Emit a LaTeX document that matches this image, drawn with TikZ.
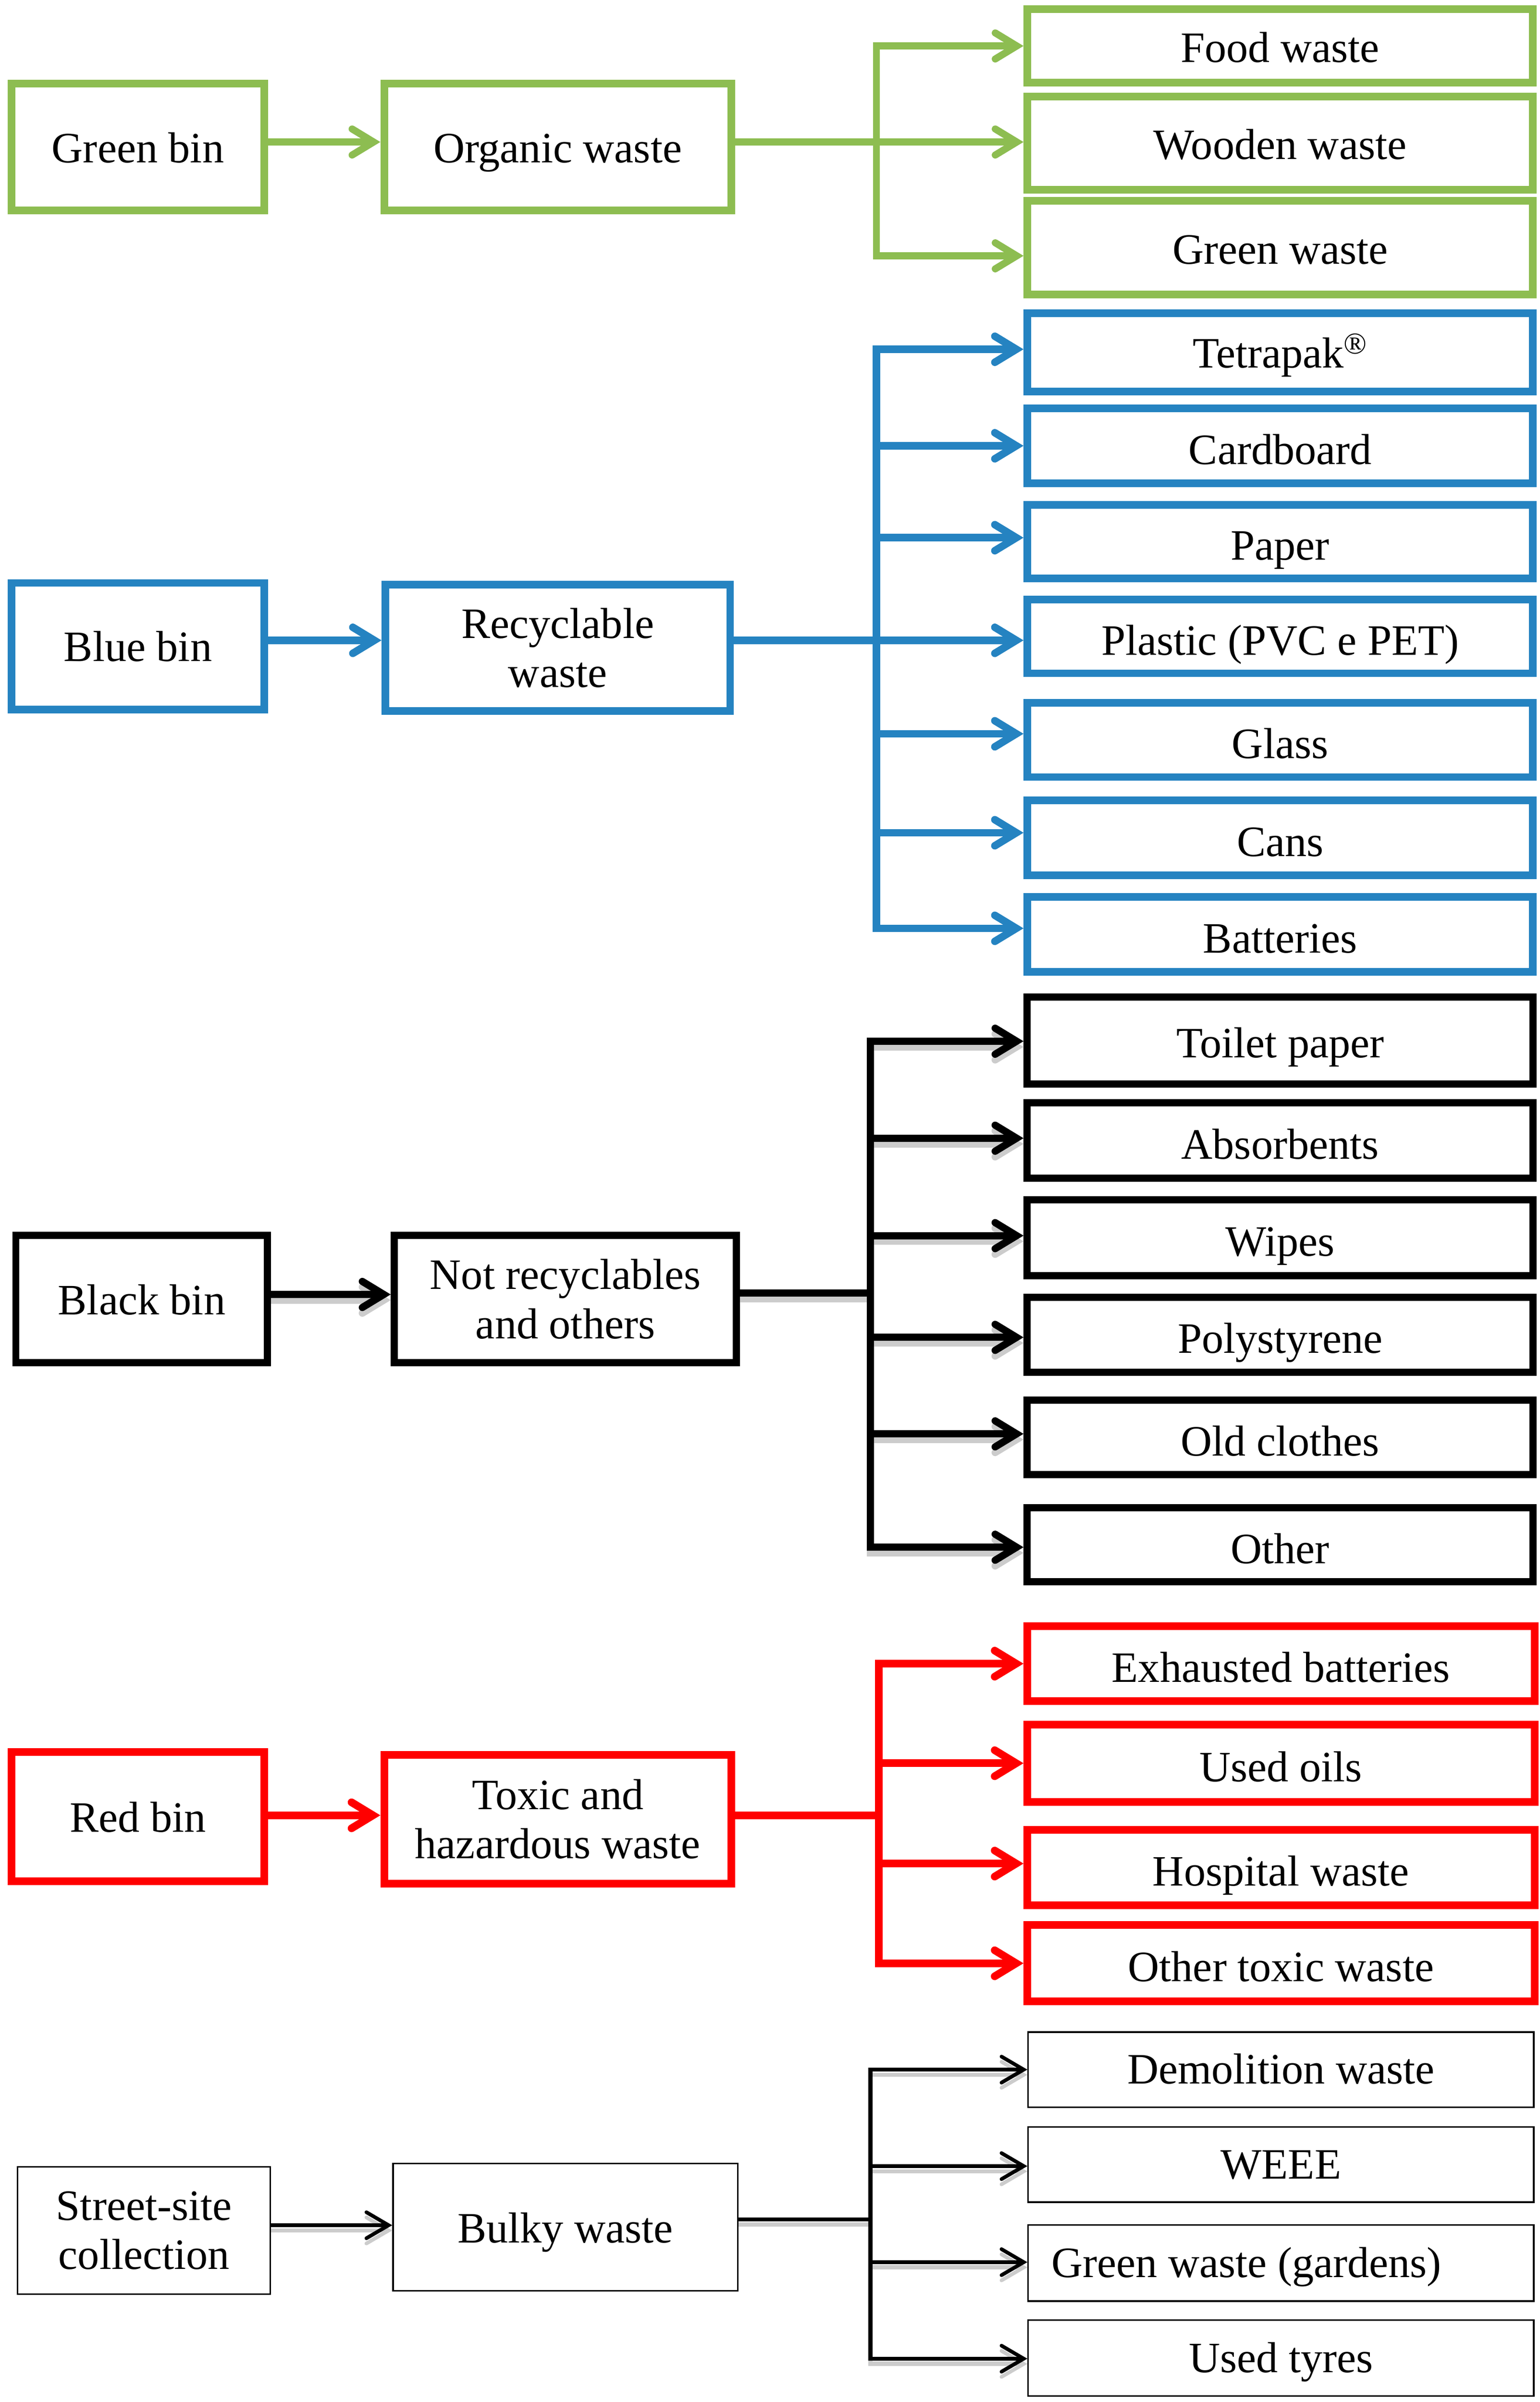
\documentclass[tikz,border=0pt]{standalone}
\usepackage{fontspec}
\setmainfont{Liberation Serif}
\usetikzlibrary{arrows.meta}
\definecolor{cgreen}{RGB}{141,189,81}
\definecolor{cblue}{RGB}{37,131,193}
\definecolor{cred}{RGB}{255,0,0}
\definecolor{cshadow}{RGB}{204,204,204}
\tikzset{
  box/.style={rectangle, inner sep=2pt, align=center,
    font=\fontsize{28.3}{32}\selectfont, text=black},
  sz/.style 2 args={minimum width=#1pt, minimum height=#2pt},
  tl/.style={text height=#1pt, text depth=6pt},
  gbox/.style={box, draw=cgreen, line width=5pt},
  bbox/.style={box, draw=cblue, line width=5pt},
  kbox/.style={box, draw=black, line width=4.7pt},
  rbox/.style={box, draw=cred, line width=5pt},
  sbox/.style={box, draw=black, line width=1pt},
  thickarr/.style={-{Straight Barb[length=14pt,width=17pt,line cap=round]}},
  thinarr/.style={-{Straight Barb[length=14.5pt,width=17pt,line width=2.4pt,line cap=round]}},
  gline/.style={draw=cgreen, line width=4.6pt},
  bline/.style={draw=cblue, line width=4.9pt},
  rline/.style={draw=cred, line width=5pt},
  kline/.style={line width=4.7pt},
  sline/.style={line width=2.7pt},
}
\newcommand\drawkconn[1]{%
  \draw[kline, draw=#1, line cap=rect] (kt1) -- (kt6);
  \draw[kline, draw=#1] (knot.east |- km) -- (km);
  \draw[kline, draw=#1, thickarr] (kbin.east |- kb) -- (kb -| knot.west);
  \draw[kline, draw=#1, thickarr] (kt1) -- (kt1 -| toilet.west);
  \draw[kline, draw=#1, thickarr] (kt2) -- (kt2 -| absorb.west);
  \draw[kline, draw=#1, thickarr] (kt3) -- (kt3 -| wipes.west);
  \draw[kline, draw=#1, thickarr] (kt4) -- (kt4 -| poly.west);
  \draw[kline, draw=#1, thickarr] (kt5) -- (kt5 -| oldc.west);
  \draw[kline, draw=#1, thickarr] (kt6) -- (kt6 -| other.west);
}
\newcommand\drawsconn[1]{%
  \draw[sline, draw=#1, line cap=rect] (st1) -- (st4);
  \draw[sline, draw=#1] (sbulk.east |- sm) -- (sm);
  \draw[sline, draw=#1, thinarr] (sbin.east |- sb) -- (sb -| sbulk.west);
  \draw[sline, draw=#1, thinarr] (st1) -- (st1 -| demol.west);
  \draw[sline, draw=#1, thinarr] (st2) -- (st2 -| weee.west);
  \draw[sline, draw=#1, thinarr] (st3) -- (st3 -| gwgard.west);
  \draw[sline, draw=#1, thinarr] (st4) -- (st4 -| tyres.west);
}
\begin{document}
\begin{tikzpicture}[x=1pt,y=-1pt]
\useasboundingbox (0,0) rectangle (1005,1568);
\fill[white] (0,0) rectangle (1005,1568);

% ---------------- Green ----------------
\node[gbox, sz={165}{83}, tl=26] (gbin) at (90,96) {Green bin};
\node[gbox, sz={226.5}{83}, tl=26] (gorg) at (364,96) {Organic waste};
\node[gbox, sz={330}{48}, tl=27] (food) at (835.5,30) {Food waste};
\node[gbox, sz={330}{61}, tl=27] (wood) at (835.5,93.5) {Wooden waste};
\node[gbox, sz={330}{61}, tl=27] (gwaste) at (835.5,161.7) {Green waste};
\coordinate (gt1) at (572,30);
\coordinate (gt2) at (572,92.7);
\coordinate (gt3) at (572,167);
\draw[gline, line cap=rect] (gt1) -- (gt3);
\draw[gline] (gorg.east |- gt2) -- (gt2);
\draw[gline, thickarr] (gbin.east |- gt2) -- (gt2 -| gorg.west);
\draw[gline, thickarr] (gt1) -- (gt1 -| food.west);
\draw[gline, thickarr] (gt2) -- (gt2 -| wood.west);
\draw[gline, thickarr] (gt3) -- (gt3 -| gwaste.west);

% ---------------- Blue ----------------
\node[bbox, sz={165}{82.5}, tl=26] (bbin) at (90,421.8) {Blue bin};
\node[bbox, sz={225}{82.5}] (brec) at (364,423) {Recyclable\\waste};
\node[bbox, sz={330}{51}, tl=26] (tetra) at (835.5,230) {Tetrapak\textsuperscript{®}};
\node[bbox, sz={330}{49}, tl=30] (cardb) at (835.5,291) {Cardboard};
\node[bbox, sz={330}{48}, tl=30] (paper) at (835.5,353.5) {Paper};
\node[bbox, sz={330}{48}, tl=30] (plast) at (835.5,415.5) {Plastic (PVC e PET)};
\node[bbox, sz={330}{48.5}, tl=30] (glass) at (835.5,483) {Glass};
\node[bbox, sz={330}{49}, tl=30] (cans) at (835.5,547) {Cans};
\node[bbox, sz={330}{49}, tl=30] (batt) at (835.5,610) {Batteries};
\coordinate (bt1) at (572,228);
\coordinate (bt2) at (572,291);
\coordinate (bt3) at (572,351);
\coordinate (bt4) at (572,418);
\coordinate (bt5) at (572,479);
\coordinate (bt6) at (572,543.6);
\coordinate (bt7) at (572,606);
\draw[bline, line cap=rect] (bt1) -- (bt7);
\draw[bline] (brec.east |- bt4) -- (bt4);
\draw[bline, thickarr] (bbin.east |- bt4) -- (bt4 -| brec.west);
\draw[bline, thickarr] (bt1) -- (bt1 -| tetra.west);
\draw[bline, thickarr] (bt2) -- (bt2 -| cardb.west);
\draw[bline, thickarr] (bt3) -- (bt3 -| paper.west);
\draw[bline, thickarr] (bt4) -- (bt4 -| plast.west);
\draw[bline, thickarr] (bt5) -- (bt5 -| glass.west);
\draw[bline, thickarr] (bt6) -- (bt6 -| cans.west);
\draw[bline, thickarr] (bt7) -- (bt7 -| batt.west);

% ---------------- Black ----------------
\node[kbox, sz={164.3}{83.3}, tl=26] (kbin) at (92.5,848) {Black bin};
\node[kbox, sz={223.3}{83.3}] (knot) at (369,848) {Not recyclables\\and others};
\node[kbox, sz={330.3}{56.8}, tl=28] (toilet) at (835.5,679.3) {Toilet paper};
\node[kbox, sz={330.3}{49.3}, tl=30] (absorb) at (835.5,744.5) {Absorbents};
\node[kbox, sz={330.3}{49.3}, tl=30] (wipes) at (835.5,808) {Wipes};
\node[kbox, sz={330.3}{48.7}, tl=30] (poly) at (835.5,871.3) {Polystyrene};
\node[kbox, sz={330.3}{48.7}, tl=30] (oldc) at (835.5,938.3) {Old clothes};
\node[kbox, sz={330.3}{48.3}, tl=30] (other) at (835.5,1008.5) {Other};
\coordinate (kt1) at (568,679.7);
\coordinate (kt2) at (568,743);
\coordinate (kt3) at (568,806.6);
\coordinate (kt4) at (568,873);
\coordinate (kt5) at (568,936);
\coordinate (kt6) at (568,1010);
\coordinate (km) at (568,844);
\coordinate (kb) at (568,845);
\begin{scope}[transform canvas={yshift=-3.7pt}]
  \drawkconn{cshadow}
\end{scope}
\drawkconn{black}

% ---------------- Red ----------------
\node[rbox, sz={165}{84.5}, tl=26] (rbin) at (90,1185.8) {Red bin};
\node[rbox, sz={226.5}{84}] (rtox) at (364,1187.5) {Toxic and\\hazardous waste};
\node[rbox, sz={331}{49}, tl=30] (exh) at (836,1086) {Exhausted batteries};
\node[rbox, sz={331}{50.5}, tl=30] (oils) at (836,1151) {Used oils};
\node[rbox, sz={331}{49.3}, tl=30] (hosp) at (836,1219) {Hospital waste};
\node[rbox, sz={331}{50}, tl=30] (otox) at (836,1281.5) {Other toxic waste};
\coordinate (rt1) at (573.5,1086);
\coordinate (rt2) at (573.5,1151);
\coordinate (rt3) at (573.5,1216.5);
\coordinate (rt4) at (573.5,1281.6);
\coordinate (rm) at (573.5,1185);
\draw[rline, line cap=rect] (rt1) -- (rt4);
\draw[rline] (rtox.east |- rm) -- (rm);
\draw[rline, thickarr] (rbin.east |- rm) -- (rm -| rtox.west);
\draw[rline, thickarr] (rt1) -- (rt1 -| exh.west);
\draw[rline, thickarr] (rt2) -- (rt2 -| oils.west);
\draw[rline, thickarr] (rt3) -- (rt3 -| hosp.west);
\draw[rline, thickarr] (rt4) -- (rt4 -| otox.west);

% ---------------- Street-site ----------------
\node[sbox, sz={165}{83}] (sbin) at (94,1456) {Street-site\\collection};
\node[sbox, sz={225}{83}, tl=26] (sbulk) at (369,1453.9) {Bulky waste};
\node[sbox, sz={330}{49}, tl=24.6] (demol) at (836,1351) {Demolition waste};
\node[sbox, sz={330}{49}, tl=24.6] (weee) at (836,1413) {WEEE};
\node[sbox, sz={330}{49.6}, tl=24.6] (gwgard) at (836,1477.3) {Green waste (gardens)\hspace*{45pt}};
\node[sbox, sz={330}{49.5}, tl=24.6] (tyres) at (836,1539.3) {Used tyres};
\coordinate (st1) at (568,1351);
\coordinate (st2) at (568,1414);
\coordinate (st3) at (568,1476.7);
\coordinate (st4) at (568,1539.7);
\coordinate (sm) at (568,1448.8);
\coordinate (sb) at (568,1452.6);
\begin{scope}[transform canvas={yshift=-3.4pt}]
  \drawsconn{cshadow}
\end{scope}
\drawsconn{black}
\end{tikzpicture}
\end{document}
